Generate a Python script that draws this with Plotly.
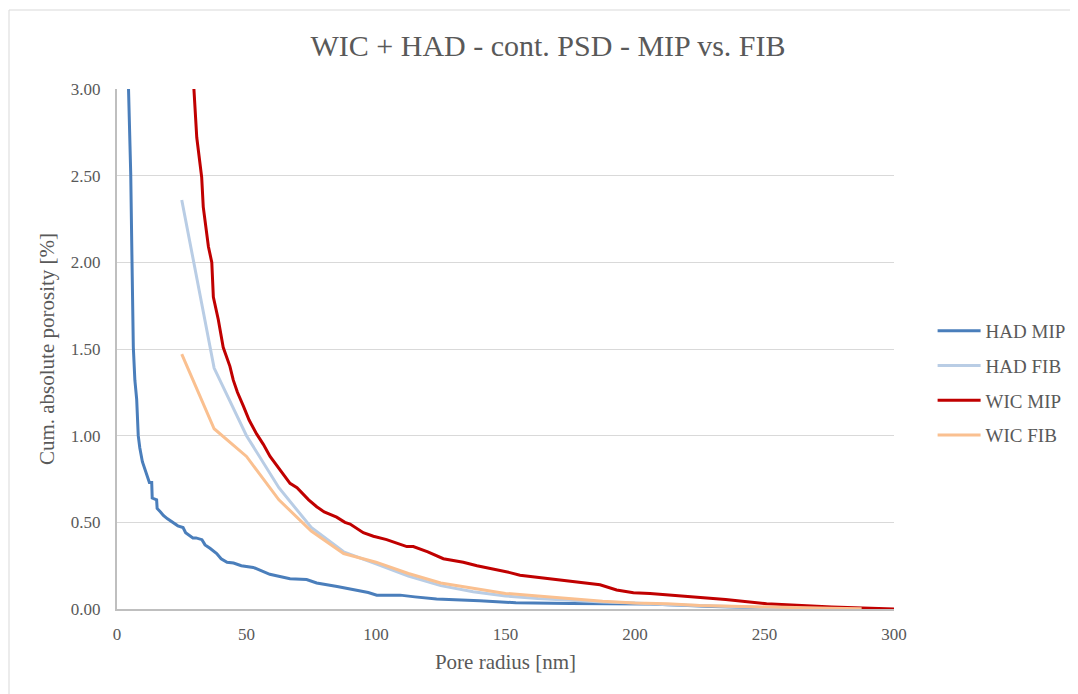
import plotly.graph_objects as go

# ---- data ----
had_mip_x = [4.1, 4.4, 5.3, 5.8, 6.3, 6.9, 7.6, 8.2, 8.8, 9.8, 10.5, 11.5, 12.5, 13.4, 13.6, 15.3, 15.5, 16.8, 17.9, 19.5,
             21.7, 23.5, 25.5, 26.5, 29.3, 30.5, 32.8, 34.0, 35.9, 38.5, 40.2, 42.5, 45.0, 48.0, 52.6, 55.0, 59.0, 62.0,
             66.8, 73.2, 77.1, 85.0, 92.5, 97.0, 100.3, 109.3, 115.0, 123.4, 140.0, 154.0, 175.0, 205.8, 230.0, 255.0, 290.0]
had_mip_y = [3.2, 3.05, 2.51, 2.0, 1.51, 1.32, 1.21, 1.0, 0.93, 0.85, 0.82, 0.78, 0.73, 0.73, 0.64, 0.63, 0.58, 0.56, 0.54, 0.52,
             0.50, 0.48, 0.47, 0.44, 0.41, 0.41, 0.40, 0.37, 0.35, 0.32, 0.29, 0.27, 0.265, 0.25, 0.24, 0.225, 0.20, 0.19,
             0.175, 0.17, 0.15, 0.13, 0.11, 0.095, 0.08, 0.08, 0.07, 0.058, 0.048, 0.036, 0.032, 0.029, 0.015, 0.005, 0.0]

wic_mip_x = [29.3, 29.5, 30.8, 32.7, 33.3, 35.3, 36.6, 37.2, 39.1, 41.0, 43.6, 44.9, 46.5, 48.8, 51.0, 53.9, 56.5, 59.1,
             62.0, 64.0, 66.8, 69.5, 72.0, 74.0, 77.1, 80.0, 84.8, 88.0, 90.0, 93.8, 95.1, 99.0, 104.1, 108.0, 111.9,
             114.4, 120.0, 126.0, 133.7, 139.0, 144.0, 151.7, 155.6, 167.2, 174.9, 186.5, 192.9, 199.4, 205.8, 222.5,
             235.0, 250.8, 262.0, 276.0, 300.0]
wic_mip_y = [3.1, 3.05, 2.72, 2.49, 2.32, 2.09, 2.0, 1.80, 1.67, 1.51, 1.40, 1.32, 1.25, 1.17, 1.09, 1.01, 0.95, 0.88,
             0.82, 0.78, 0.725, 0.70, 0.66, 0.63, 0.59, 0.56, 0.53, 0.50, 0.49, 0.455, 0.44, 0.42, 0.40, 0.38, 0.36,
             0.36, 0.33, 0.29, 0.27, 0.25, 0.235, 0.21, 0.195, 0.175, 0.16, 0.14, 0.11, 0.094, 0.09, 0.07,
             0.055, 0.03, 0.022, 0.012, 0.0]

fib_x = [25, 37.5, 50, 62.5, 75, 87.5, 100, 112.5, 125, 137.5, 150, 162.5, 175, 187.5, 200, 212.5, 225, 237.5,
         250, 262.5, 275, 287.5]
had_fib_y = [2.36, 1.39, 1.00, 0.70, 0.47, 0.33, 0.26, 0.19, 0.135, 0.10, 0.075, 0.06, 0.05, 0.04, 0.035, 0.025,
             0.02, 0.012, 0.008, 0.005, 0.003, 0.001]
wic_fib_y = [1.47, 1.04, 0.88, 0.63, 0.45, 0.32, 0.27, 0.205, 0.15, 0.12, 0.09, 0.075, 0.06, 0.045, 0.035, 0.03,
             0.02, 0.015, 0.01, 0.007, 0.004, 0.002]

x_ticks = [0, 50, 100, 150, 200, 250, 300]
y_ticks = [0.0, 0.5, 1.0, 1.5, 2.0, 2.5, 3.0]

FONT = "Times New Roman, Liberation Serif, DejaVu Serif, serif"
GRAY = "#595959"

fig = go.Figure()
series = [
    ("HAD MIP", had_mip_x, had_mip_y, "#4a7ebb"),
    ("HAD FIB", fib_x, had_fib_y, "#b9cde5"),
    ("WIC MIP", wic_mip_x, wic_mip_y, "#c00000"),
    ("WIC FIB", fib_x, wic_fib_y, "#fac090"),
]
for name, xs, ys, col in series:
    fig.add_trace(go.Scatter(x=xs, y=ys, mode="lines", name=name, legendgroup=name,
                             line=dict(color=col, width=3)))

# page body has an 8px margin, so figure coordinates are screen minus 8
W, H = 1070, 686
L, T = 109, 81
PW, PH = 777, 520
fig.update_layout(
    width=W, height=H,
    margin=dict(l=L, r=W - L - PW, t=T, b=H - T - PH, autoexpand=False),
    paper_bgcolor="white", plot_bgcolor="white",
    font=dict(family=FONT, color=GRAY, size=17),
    title=dict(text="WIC + HAD - cont. PSD - MIP vs. FIB", x=540 / W, xanchor="center",
               y=1 - 37 / H, yanchor="middle", yref="container",
               font=dict(family=FONT, size=30, color=GRAY)),
    legend=dict(x=924.6 / W, xref="container", y=0.4346, xanchor="left", yanchor="middle",
                font=dict(family=FONT, size=19, color=GRAY),
                tracegroupgap=7, itemwidth=43, bgcolor="rgba(0,0,0,0)"),
    showlegend=True,
)
fig.update_xaxes(range=[0, 300], tickvals=x_ticks, showgrid=False, zeroline=False,
                 showline=True, linecolor="#bfbfbf", linewidth=2, ticks="", ticklabelstandoff=9,
                 tickfont=dict(family=FONT, size=17, color=GRAY),
                 title=dict(text="Pore radius [nm]", font=dict(family=FONT, size=21, color=GRAY), standoff=11),
                 automargin=False)
fig.update_yaxes(range=[0, 3], tickvals=y_ticks, tickformat=".2f", showgrid=True, gridcolor="#d9d9d9",
                 gridwidth=1, zeroline=False, showline=True, linecolor="#bfbfbf", linewidth=2, ticks="",
                 ticklabelstandoff=11, tickfont=dict(family=FONT, size=17, color=GRAY),
                 title=dict(text="Cum. absolute porosity [%]", font=dict(family=FONT, size=21, color=GRAY), standoff=10),
                 automargin=False)

# outer chart border
fig.add_shape(type="rect", xref="paper", yref="paper",
              x0=(1 - L) / PW, x1=1.3, y0=-0.3, y1=(T + PH - 2) / PH,
              line=dict(color="#d9d9d9", width=1), fillcolor="rgba(0,0,0,0)", layer="below")

fig.write_html("out.html")
